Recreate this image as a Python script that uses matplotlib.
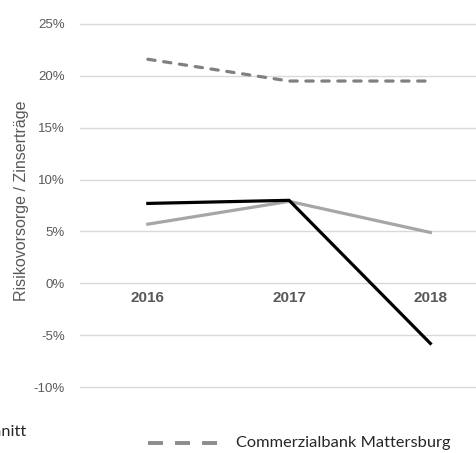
import matplotlib.pyplot as plt
from matplotlib.lines import Line2D

# 데이터
years = ['2016', '2017', '2018']
commerzialbank = [21.6, 19.5, 19.5]
bank_b = [7.7, 8.0, -5.8]
durchschnitt = [5.7, 7.9, 4.9]
y_ticks = [-10, -5, 0, 5, 10, 15, 20, 25]

W, H = 477, 453
fig = plt.figure(figsize=(W / 100, H / 100), dpi=100)

# 축 위치 (픽셀 기준)
ax_left, ax_right = 80, 477
ax_top, ax_bottom = 18.8, 392.2
ax = fig.add_axes([ax_left / W, 1 - ax_bottom / H,
                   (ax_right - ax_left) / W, (ax_bottom - ax_top) / H])

x = range(len(years))
ax.plot(x, commerzialbank, color='#808080', lw=2.3, linestyle=(0, (2.3, 2.7)),
        dash_capstyle='round', zorder=3)
ax.plot(x, bank_b, color='black', lw=2.3, zorder=4)
ax.plot(x, durchschnitt, color='#a6a6a6', lw=2.3, zorder=3)

ax.set_xlim(-0.48, 2.33)
ax.set_ylim(-10.5, 25.5)
ax.set_yticks(y_ticks)
ax.set_yticklabels([f'{t}%' for t in y_ticks], fontsize=9.5,
                   family='Liberation Sans', color='#595959')
ax.tick_params(axis='y', length=0, pad=11)
ax.set_xticks([])
ax.grid(axis='y', color='#d9d9d9', lw=1)
ax.set_axisbelow(True)
for s in ax.spines.values():
    s.set_visible(False)

# 연도 라벨
for i, yr in enumerate(years):
    ax.text(i, -1.45, yr, ha='center', va='center', fontsize=11,
            fontweight='bold', family='Liberation Sans', color='#595959')

fig.text(22 / W, 1 - 201 / H, 'Risikovorsorge / Zinserträge', rotation=90,
         ha='center', va='center', fontsize=11.5, family='Liberation Sans',
         color='#595959')

# 범례 (잘린 부분)
fig.text(27 / W, 1 - 432 / H, 'Durchschnitt', ha='right', va='center',
         fontsize=11.8, family='Lato', color='#262626')
fig.add_artist(Line2D([148 / W, 218 / W], [1 - 443 / H, 1 - 443 / H],
                      color='#8c8c8c', lw=2.8, linestyle=(0, (3.85, 3.1)),
                      dash_capstyle='butt'))
fig.text(236 / W, 1 - 443 / H, 'Commerzialbank Mattersburg', ha='left',
         va='center', fontsize=11.8, family='Lato', color='#262626')

fig.savefig('out.png', dpi=100)
